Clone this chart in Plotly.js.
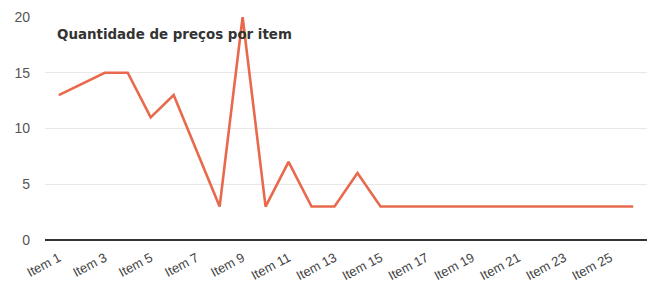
<!DOCTYPE html>
<html><head><meta charset="utf-8">
<script src="https://cdn.plot.ly/plotly-3.0.1.min.js"></script>
<style>html,body{margin:0;padding:0;background:#fff}#chart{width:654px;height:289px}</style>
</head><body><div id="chart"></div>
<script>
const categories = ["Item 1","Item 2","Item 3","Item 4","Item 5","Item 6","Item 7","Item 8","Item 9","Item 10","Item 11","Item 12","Item 13","Item 14","Item 15","Item 16","Item 17","Item 18","Item 19","Item 20","Item 21","Item 22","Item 23","Item 24","Item 25","Item 26"];
const values = [13,14,15,15,11,13,8,3,20,3,7,3,3,6,3,3,3,3,3,3,3,3,3,3,3,3];
const tickLabels = ["Item 1","Item 3","Item 5","Item 7","Item 9","Item 11","Item 13","Item 15","Item 17","Item 19","Item 21","Item 23","Item 25"];
const yTicks = [0,5,10,15,20];

Plotly.newPlot('chart', [{
  type: 'scatter', mode: 'lines', x: categories, y: values,
  line: {color: '#e8694c', width: 2.6}, hoverinfo: 'x+y'
}], {
  width: 654, height: 289,
  margin: {l: 45, r: 7, t: 17, b: 49},
  paper_bgcolor: '#fff', plot_bgcolor: '#fff',
  showlegend: false,
  title: {text: '<b>Quantidade de preços por item</b>', xref: 'container', yref: 'container',
          x: 57/654, xanchor: 'left', y: 1 - 34/289, yanchor: 'middle',
          font: {family: 'DejaVu Sans, sans-serif', size: 13.4, color: '#333'}},
  xaxis: {type: 'category', categoryorder: 'array', categoryarray: categories,
          range: [-0.6, 25.6], tickmode: 'array', tickvals: tickLabels, ticktext: tickLabels,
          tickangle: -28, showgrid: false, zeroline: false, showline: false, ticks: '',
          ticklabelstandoff: 7,
          tickfont: {family: 'Liberation Sans, Arial, sans-serif', size: 13, color: '#444'}},
  yaxis: {range: [0, 20], tickmode: 'array', tickvals: yTicks, showgrid: true,
          gridcolor: '#e8e8e8', gridwidth: 1, zeroline: true, zerolinecolor: '#333', zerolinewidth: 2,
          showline: false, ticks: '', ticklabelstandoff: 14,
          tickfont: {family: 'Liberation Sans, Arial, sans-serif', size: 14, color: '#555'}}
}, {displayModeBar: false, staticPlot: true});
</script></body></html>
